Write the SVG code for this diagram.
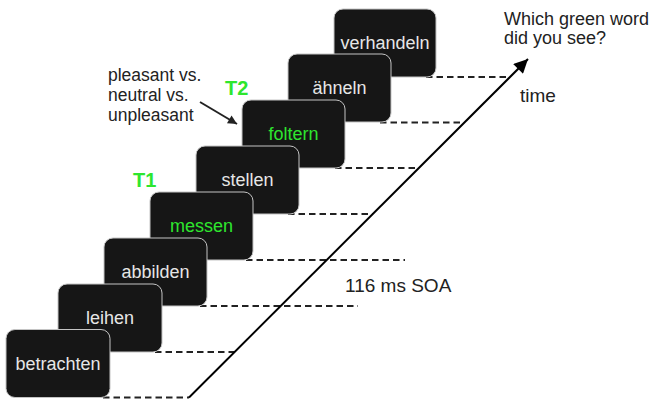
<svg xmlns="http://www.w3.org/2000/svg" width="650" height="402" viewBox="0 0 650 402">
<defs>
<style>
.card rect{fill:#161616;stroke:#c4c4c4;stroke-width:1}
.card text{font-family:"Liberation Sans",Arial,sans-serif;font-size:18px;fill:#e6e6e6;text-anchor:middle}
.card text.g{fill:#2ee62e}
.dash{stroke:#222;stroke-width:2;stroke-dasharray:6.5,4;fill:none}
.lbl{font-family:"Liberation Sans",Arial,sans-serif;fill:#222}
.tl{font-family:"Liberation Sans",Arial,sans-serif;font-weight:bold;font-size:20px;fill:#2ee62e}
</style>
<marker id="ahBig" viewBox="0 0 10 10" refX="10" refY="5" markerWidth="18" markerHeight="14" markerUnits="userSpaceOnUse" orient="auto">
<path d="M0,0 L10,5 L0,10 z" fill="#000"/>
</marker>
<marker id="ahSm" viewBox="0 0 10 10" refX="10" refY="5" markerWidth="11" markerHeight="9" markerUnits="userSpaceOnUse" orient="auto">
<path d="M0,0 L10,5 L0,10 z" fill="#222"/>
</marker>
</defs>
<rect width="650" height="402" fill="#fff"/>
<g id="connectors">
<line class="dash" x1="103" y1="397.5" x2="189" y2="397.5"/>
<line class="dash" x1="155" y1="352" x2="235" y2="352"/>
<line class="dash" x1="200" y1="306" x2="358" y2="306"/>
<line class="dash" x1="246" y1="260" x2="405" y2="260"/>
<line class="dash" x1="288" y1="214" x2="373" y2="214"/>
<line class="dash" x1="335" y1="168" x2="419" y2="168"/>
<line class="dash" x1="380" y1="122.5" x2="464" y2="122.5"/>
<line class="dash" x1="426" y1="77" x2="510" y2="77"/>
<line x1="189" y1="397.5" x2="528" y2="59" stroke="#000" stroke-width="2" marker-end="url(#ahBig)"/>
<line x1="200" y1="102" x2="237" y2="124" stroke="#222" stroke-width="2" marker-end="url(#ahSm)"/>
</g>
<g id="n8" class="card"><rect x="334" y="9" width="102" height="68" rx="9"/><text x="385" y="49">verhandeln</text></g>
<g id="n7" class="card"><rect x="288" y="54" width="103" height="68" rx="9"/><text x="339.5" y="94">ähneln</text></g>
<g id="n6" class="card"><rect x="242" y="100" width="103" height="68" rx="9"/><text class="g" x="293.5" y="140">foltern</text></g>
<g id="n5" class="card"><rect x="196" y="146" width="103" height="68" rx="9"/><text x="247.5" y="186">stellen</text></g>
<g id="n4" class="card"><rect x="150" y="192" width="103" height="68" rx="9"/><text class="g" x="201.5" y="232">messen</text></g>
<g id="n3" class="card"><rect x="104" y="238" width="103" height="68" rx="9"/><text x="155.5" y="278">abbilden</text></g>
<g id="n2" class="card"><rect x="58" y="284" width="104" height="68" rx="9"/><text x="110" y="324">leihen</text></g>
<g id="n1" class="card"><rect x="6" y="329.5" width="104" height="68" rx="9"/><text x="58" y="370">betrachten</text></g>
<g id="labels">
<text class="lbl" x="504" y="25" font-size="18">Which green word</text>
<text class="lbl" x="504" y="44" font-size="18">did you see?</text>
<text class="lbl" x="520" y="102" font-size="19">time</text>
<text class="lbl" x="345" y="292" font-size="19">116 ms SOA</text>
<text class="lbl" x="108" y="81" font-size="17.5">pleasant vs.</text>
<text class="lbl" x="108" y="101" font-size="17.5">neutral vs.</text>
<text class="lbl" x="108" y="121" font-size="17.5">unpleasant</text>
<text class="tl" x="225" y="95">T2</text>
<text class="tl" x="133" y="187">T1</text>
</g>
</svg>
